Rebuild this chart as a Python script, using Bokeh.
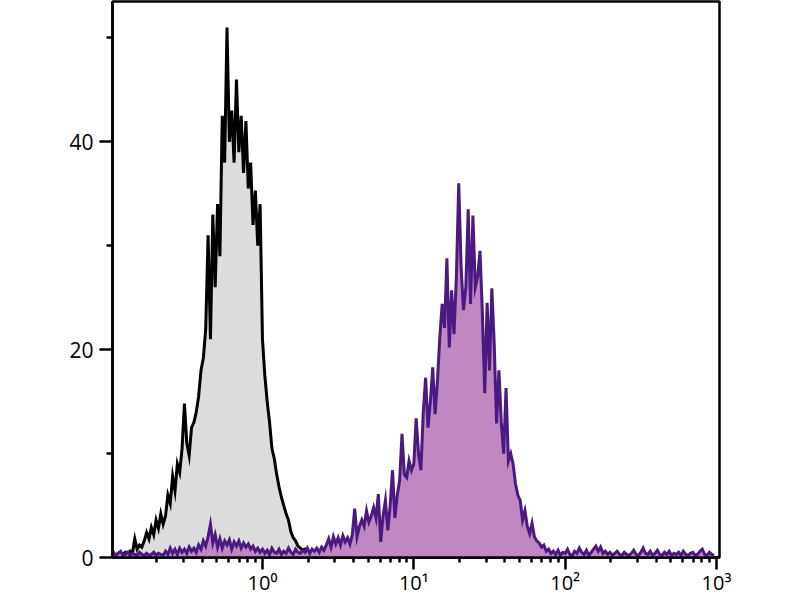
from bokeh.plotting import figure
from bokeh.models import Range1d, FixedTicker
from bokeh.embed import file_html
from bokeh.resources import INLINE

# Channel grid of the histograms: 64 log-spaced channels per decade starting at 10^-1
CHANNELS_PER_DECADE = 64
FIRST_DECADE = -1

# Isotype / unstained control (black outline, grey fill)
black_counts = [
    0.2, 0.3, 0.2, 0.4, 0.2, 0.3, 0.5, 0.3, 0.6, 0.4,
    1.8, 0.8, 1.2, 1.0, 1.6, 2.4, 1.8, 2.9, 2.2, 3.6,
    2.8, 4.2, 3.2, 4.0, 6.0, 5.2, 7.8, 6.4, 9.0, 8.2,
    10.5, 14.8, 11.0, 9.8, 12.5, 13.0, 14.0, 15.5, 18.0, 19.2,
    22.0, 31.0, 21.0, 33.0, 26.0, 34.0, 29.0, 42.5, 38.0, 51.0,
    40.0, 43.0, 38.0, 46.0, 39.0, 42.5, 37.0, 42.0, 35.5, 38.0,
    32.0, 35.3, 30.0, 34.0, 21.0, 17.5, 15.0, 13.0, 10.5, 9.5,
    8.0, 6.8, 5.8, 5.0, 4.2, 3.6, 2.5, 1.9, 1.6, 1.1,
    0.9, 0.7, 0.8, 0.5, 0.3, 0.2, 0.0,
]

# Stained sample (purple outline, purple fill)
purple_counts = [
    0.3, 0.5, 0.2, 0.4, 0.6, 0.2, 0.3, 0.5, 0.2, 0.4,
    0.3, 0.2, 0.5, 0.3, 0.2, 0.4, 0.2, 0.3, 0.5, 0.2,
    0.4, 0.3, 0.2, 0.6, 0.3, 0.9, 0.4, 0.8, 0.3, 0.9,
    0.5, 0.8, 0.4, 1.0, 0.6, 0.9, 0.5, 1.2, 0.8, 1.6,
    1.1, 2.0, 3.2, 1.4, 2.2, 1.0, 1.8, 0.9, 1.6, 1.2,
    1.7, 0.8, 1.5, 1.1, 1.6, 0.9, 1.4, 1.0, 1.3, 0.8,
    1.1, 0.6, 0.9, 0.5, 0.8, 0.4, 0.7, 0.3, 0.9, 0.5,
    0.4, 0.8, 0.3, 0.6, 0.4, 0.9, 0.5, 0.3, 0.8, 0.5,
    0.4, 0.7, 0.5, 0.9, 0.4, 0.8, 0.6, 0.9, 0.5, 1.0,
    0.7, 1.2, 1.8, 1.0, 2.0, 1.3, 1.9, 1.2, 2.1, 1.5,
    1.9, 1.3, 2.2, 4.7, 2.0, 3.0, 3.6, 3.0, 4.5, 3.4,
    4.0, 4.8, 3.8, 6.1, 1.5, 4.0, 5.5, 2.6, 5.0, 8.4,
    3.8, 6.0, 7.4, 11.9, 8.0, 7.7, 9.3, 8.4, 9.0, 13.4,
    10.0, 8.4, 14.0, 17.3, 12.5, 15.0, 18.3, 13.8, 17.0, 21.2,
    24.4, 22.1, 28.8, 20.2, 25.7, 21.5, 27.0, 36.0, 28.0, 23.8,
    26.0, 33.5, 24.4, 32.9, 26.0, 27.0, 29.5, 23.5, 15.8, 24.5,
    18.0, 25.9, 20.6, 12.9, 18.0, 13.0, 10.0, 16.3, 9.3, 10.0,
    9.0, 7.1, 6.0, 5.5, 3.6, 4.5, 3.0, 2.3, 3.3, 2.0,
    1.6, 1.4, 1.0, 1.2, 0.6, 0.8, 0.4, 0.6, 0.3, 0.7,
    0.2, 0.5, 0.4, 0.8, 0.3, 0.2, 0.6, 0.4, 0.9, 0.5,
    0.3, 0.7, 0.2, 0.5, 0.8, 1.1, 0.6, 1.0, 0.4, 0.6,
    0.3, 0.5, 0.2, 0.4, 0.6, 0.3, 0.2, 0.5, 0.3, 0.2,
    0.4, 0.7, 0.3, 0.2, 0.5, 0.9, 0.4, 0.3, 0.6, 0.2,
    0.4, 0.7, 0.3, 0.2, 0.5, 0.3, 0.6, 0.2, 0.4, 0.3,
    0.5, 0.2, 0.6, 0.3, 0.2, 0.4, 0.5, 0.2, 0.3, 0.6,
    0.8, 0.3, 0.2, 0.5, 0.3, 0.2,
]

x_major_ticks = [1, 10, 100, 1000]
x_major_labels = ["10\u2070", "10\u00b9", "10\u00b2", "10\u00b3"]
x_minor_mantissas = [2, 3, 4, 5, 6, 7, 8, 9]
x_minor_decades = [0.1, 1, 10, 100]

y_major_ticks = [0, 20, 40]
y_minor_ticks = [10, 30, 50]

X_START = 10 ** -0.991
X_END = 10 ** 3.02
Y_END = 53.5

FONT = "Open Sans"


def channels(n):
    return [10 ** (FIRST_DECADE + i / CHANNELS_PER_DECADE) for i in range(n)]


p = figure(
    width=792, height=600,
    x_axis_type="log",
    x_range=Range1d(X_START, X_END),
    y_range=Range1d(0, Y_END),
    output_backend="svg",
    toolbar_location=None,
    min_border_left=112, min_border_right=73,
    min_border_top=1, min_border_bottom=43,
)

p.xgrid.visible = False
p.ygrid.visible = False
p.background_fill_color = "white"
p.border_fill_color = "white"
p.outline_line_color = "black"
p.outline_line_width = 2.5

bx = channels(len(black_counts))
px_ = channels(len(purple_counts))

p.varea(x=bx, y1=[0] * len(bx), y2=black_counts, fill_color="#dcdcdc")
p.line(x=bx, y=black_counts, line_color="black", line_width=3, line_join="miter")
p.varea(x=px_, y1=[0] * len(px_), y2=purple_counts, fill_color="#bf88c2")
p.line(x=px_, y=purple_counts, line_color="#4a1a80", line_width=3, line_join="miter")

xaxis = p.xaxis[0]
xaxis.ticker = FixedTicker(
    ticks=x_major_ticks,
    minor_ticks=[m * d for d in x_minor_decades for m in x_minor_mantissas],
)
xaxis.major_label_overrides = {t: lab for t, lab in zip(x_major_ticks, x_major_labels)}
xaxis.major_label_text_font_size = "20px"
xaxis.major_label_standoff = -1

yaxis = p.yaxis[0]
yaxis.ticker = FixedTicker(ticks=y_major_ticks, minor_ticks=y_minor_ticks)
yaxis.major_label_text_font_size = "21px"
yaxis.major_label_standoff = 6

for ax in (xaxis, yaxis):
    ax.axis_line_width = 2.5
    ax.axis_line_color = "black"
    ax.major_tick_line_width = 2.5
    ax.minor_tick_line_width = 2.5
    ax.major_tick_line_color = "black"
    ax.minor_tick_line_color = "black"
    ax.major_tick_in = 0
    ax.minor_tick_in = 0
    ax.major_label_text_font = FONT
    ax.major_label_text_color = "black"

xaxis.major_tick_out = 12
xaxis.minor_tick_out = 5
yaxis.major_tick_out = 13
yaxis.minor_tick_out = 6

open("out.html", "w").write(file_html(p, INLINE))
